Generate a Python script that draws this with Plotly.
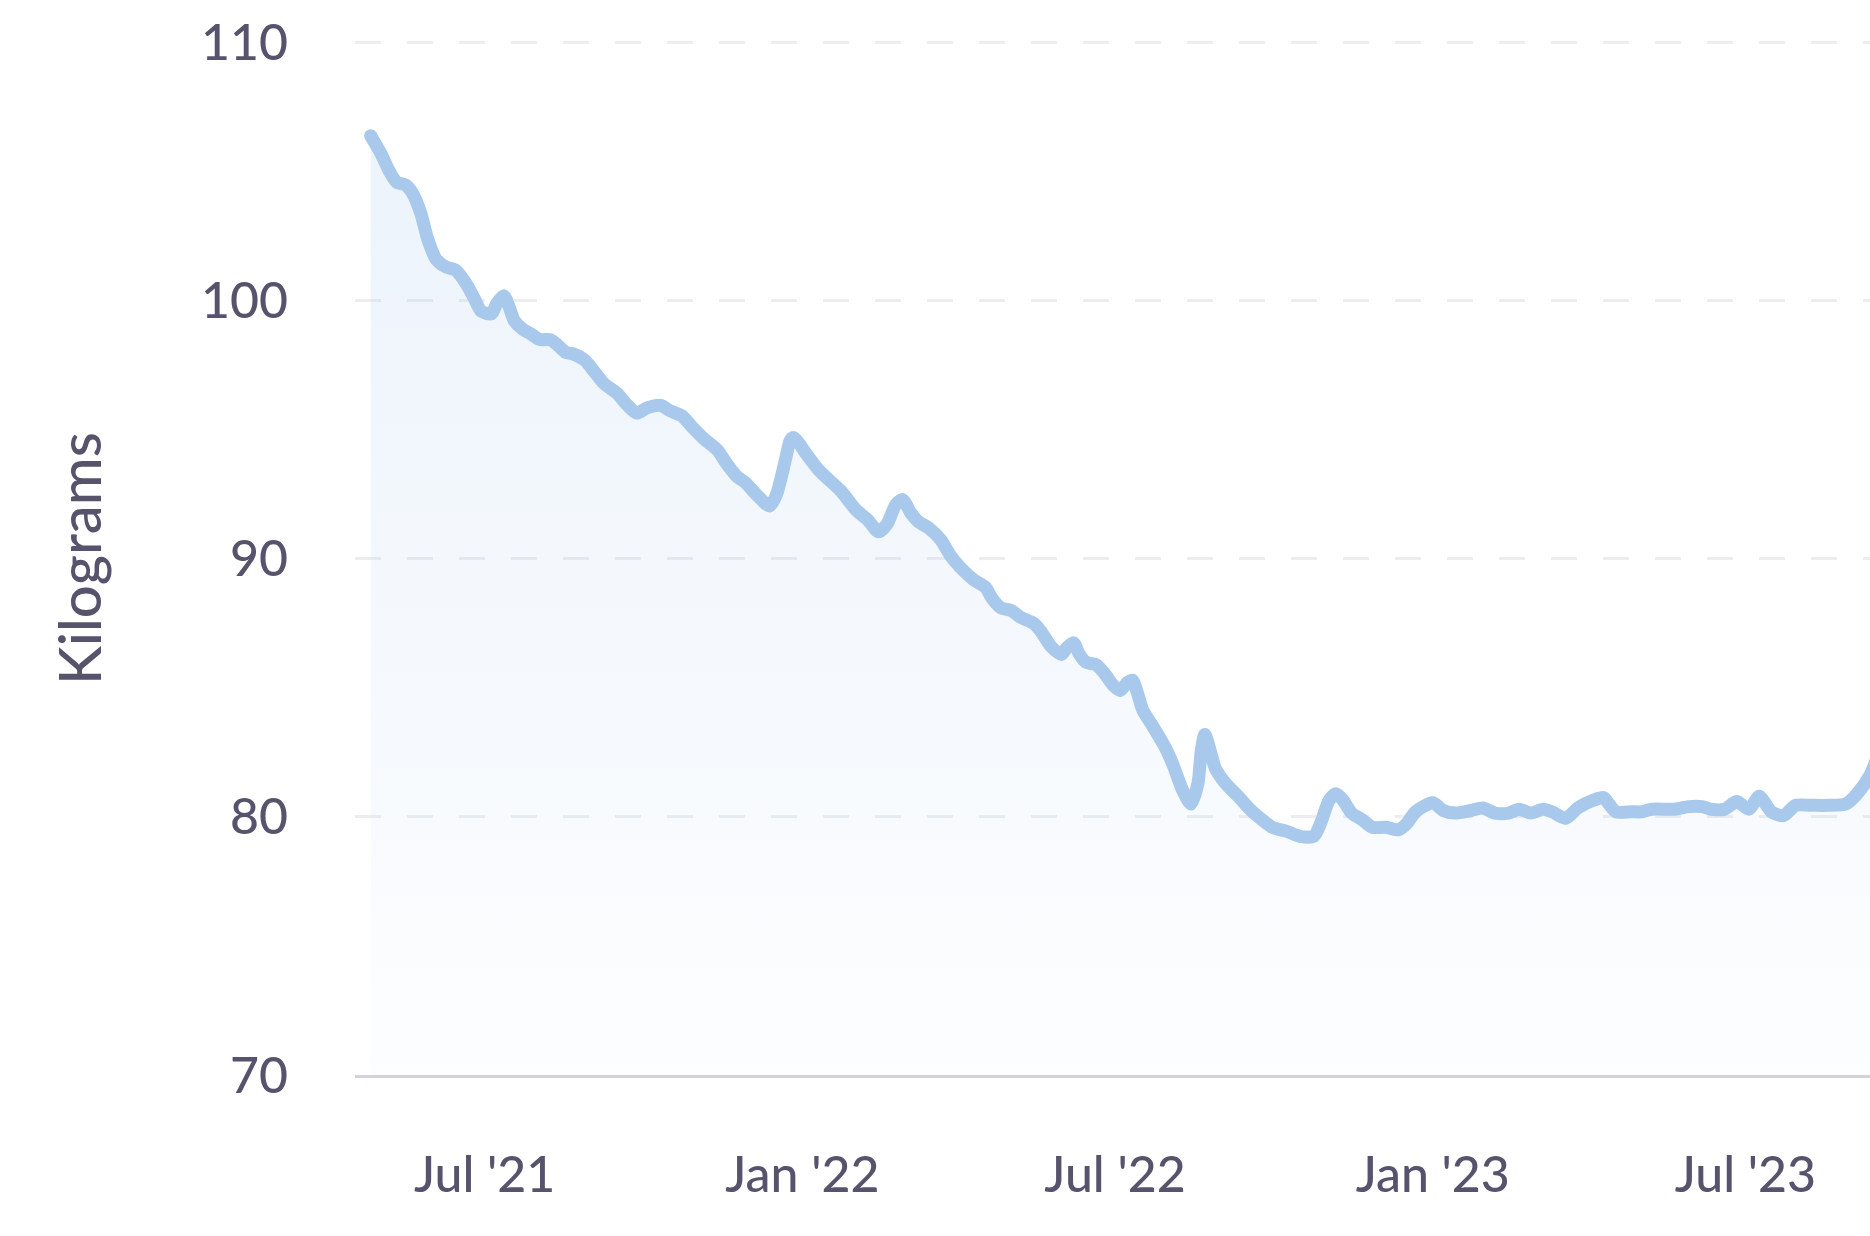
import plotly.graph_objects as go

dates = [
    "2021-04-26", "2021-05-02", "2021-05-07", "2021-05-11", "2021-05-16", "2021-05-20",
    "2021-05-25", "2021-05-29", "2021-06-03", "2021-06-09", "2021-06-14", "2021-06-20",
    "2021-06-25", "2021-06-29", "2021-07-05", "2021-07-08", "2021-07-12", "2021-07-15",
    "2021-07-18", "2021-07-23", "2021-07-27", "2021-08-02", "2021-08-08", "2021-08-12",
    "2021-08-17", "2021-08-21", "2021-08-28", "2021-09-02", "2021-09-08", "2021-09-16",
    "2021-09-21", "2021-09-27", "2021-10-03", "2021-10-11", "2021-10-16", "2021-10-23",
    "2021-10-30", "2021-11-05", "2021-11-13", "2021-11-18", "2021-11-24", "2021-11-29",
    "2021-12-06", "2021-12-13", "2021-12-17", "2021-12-22", "2021-12-25", "2021-12-27",
    "2022-01-04", "2022-01-11", "2022-01-23", "2022-02-01", "2022-02-08", "2022-02-14",
    "2022-02-19", "2022-02-24", "2022-02-28", "2022-03-05", "2022-03-09", "2022-03-15",
    "2022-03-22", "2022-03-28", "2022-04-02", "2022-04-10", "2022-04-17", "2022-04-21",
    "2022-04-26", "2022-05-02", "2022-05-07", "2022-05-15", "2022-05-19", "2022-05-25",
    "2022-05-31", "2022-06-03", "2022-06-07", "2022-06-10", "2022-06-14", "2022-06-20",
    "2022-06-25", "2022-06-30", "2022-07-04", "2022-07-08", "2022-07-11", "2022-07-14",
    "2022-07-17", "2022-07-23", "2022-07-30", "2022-08-04", "2022-08-09", "2022-08-14",
    "2022-08-18", "2022-08-20", "2022-08-22", "2022-08-25", "2022-08-28", "2022-09-03",
    "2022-09-11", "2022-09-17", "2022-09-23", "2022-09-30", "2022-10-08", "2022-10-16",
    "2022-10-24", "2022-10-28", "2022-11-02", "2022-11-06", "2022-11-10", "2022-11-15",
    "2022-11-21", "2022-11-27", "2022-12-05", "2022-12-12", "2022-12-17", "2022-12-22",
    "2023-01-01", "2023-01-07", "2023-01-14", "2023-01-23", "2023-01-30", "2023-02-06",
    "2023-02-14", "2023-02-20", "2023-02-27", "2023-03-06", "2023-03-11", "2023-03-19",
    "2023-03-26", "2023-04-04", "2023-04-10", "2023-04-13", "2023-04-17", "2023-04-26",
    "2023-05-02", "2023-05-08", "2023-05-21", "2023-05-29", "2023-06-06", "2023-06-11",
    "2023-06-19", "2023-06-26", "2023-07-03", "2023-07-09", "2023-07-16", "2023-07-23",
    "2023-07-30", "2023-08-08", "2023-08-18", "2023-08-28", "2023-09-03", "2023-09-11",
    "2023-09-18",
]

weight_kg = [
    106.4, 105.7, 105.0, 104.6, 104.5, 104.2,
    103.4, 102.4, 101.6, 101.3, 101.2, 100.7,
    100.1, 99.6, 99.5, 99.9, 100.2, 99.8,
    99.25, 98.9, 98.75, 98.5, 98.5, 98.3,
    98.0, 97.95, 97.7, 97.3, 96.8, 96.4,
    96.0, 95.65, 95.85, 95.95, 95.75, 95.55,
    95.05, 94.65, 94.2, 93.7, 93.2, 92.95,
    92.45, 92.05, 92.5, 93.8, 94.6, 94.7,
    94.0, 93.4, 92.65, 91.9, 91.5, 91.05,
    91.35, 92.1, 92.3, 91.75, 91.45, 91.2,
    90.75, 90.1, 89.7, 89.2, 88.9, 88.45,
    88.1, 88.0, 87.75, 87.5, 87.2, 86.6,
    86.3, 86.55, 86.75, 86.35, 86.0, 85.9,
    85.55, 85.1, 84.9, 85.2, 85.3, 84.8,
    84.15, 83.5, 82.7, 81.95, 81.05, 80.5,
    81.3, 82.6, 83.2, 82.6, 81.9, 81.3,
    80.75, 80.3, 79.95, 79.6, 79.45, 79.25,
    79.25, 79.75, 80.65, 80.9, 80.65, 80.15,
    79.9, 79.6, 79.6, 79.5, 79.75, 80.2,
    80.55, 80.25, 80.15, 80.25, 80.35, 80.15,
    80.15, 80.3, 80.15, 80.3, 80.2, 79.95,
    80.35, 80.65, 80.75, 80.5, 80.2, 80.2,
    80.2, 80.3, 80.3, 80.4, 80.4, 80.3,
    80.3, 80.6, 80.3, 80.8, 80.2, 80.05,
    80.45, 80.45, 80.45, 80.5, 80.85, 81.6,
    82.8,
]

y_ticks = [70, 80, 90, 100, 110]
x_tick_dates = ["2021-07-01", "2022-01-01", "2022-07-01", "2023-01-01", "2023-07-01"]
x_tick_labels = ["Jul '21", "Jan '22", "Jul '22", "Jan '23", "Jul '23"]
y_title = "Kilograms"

TEXT = "#58536d"
LINE = "#a8c9ec"
FONT = "Lato, 'Open Sans', sans-serif"
LINE_W = 13

fig = go.Figure()
fig.add_trace(go.Scatter(
    x=dates,
    y=weight_kg,
    mode="lines",
    line=dict(color=LINE, width=LINE_W, shape="spline", smoothing=0.7),
    fill="tozeroy",
    fillgradient=dict(
        type="vertical",
        start=70,
        stop=106.4,
        colorscale=[[0, "rgba(168,201,236,0.03)"], [1, "rgba(168,201,236,0.22)"]],
    ),
    hoverinfo="skip",
    showlegend=False,
))
# rounded cap at the start of the line
fig.add_trace(go.Scatter(
    x=dates[:1],
    y=weight_kg[:1],
    mode="markers",
    marker=dict(color=LINE, size=LINE_W, line=dict(width=0)),
    hoverinfo="skip",
    showlegend=False,
))

fig.update_layout(
    width=1870,
    height=1236,
    margin=dict(l=355, r=0, t=17, b=161, pad=0),
    paper_bgcolor="white",
    plot_bgcolor="white",
    font=dict(family=FONT, color=TEXT, size=50, weight=500),
    showlegend=False,
    annotations=[dict(
        text=y_title,
        textangle=-90,
        xref="paper", yref="paper",
        x=-0.1822, y=0.4887,
        xanchor="center", yanchor="middle",
        showarrow=False,
        font=dict(family=FONT, color=TEXT, size=58, weight=500),
    )],
)

fig.update_xaxes(
    type="date",
    range=["2021-04-16 22:19", "2023-09-11 03:20"],
    tickvals=x_tick_dates,
    ticktext=x_tick_labels,
    showgrid=False,
    zeroline=False,
    showline=True,
    linecolor="#d3d2dc",
    linewidth=3,
    ticks="outside",
    ticklen=54,
    tickcolor="rgba(0,0,0,0)",
    tickfont=dict(family=FONT, color=TEXT, size=50, weight=500),
)

fig.update_yaxes(
    range=[70, 111],
    tickvals=y_ticks,
    ticktext=[str(v) for v in y_ticks],
    showgrid=True,
    gridcolor="#ededf1",
    gridwidth=3,
    griddash="26px,26px",
    zeroline=False,
    showline=False,
    ticks="outside",
    ticklen=56,
    tickcolor="rgba(0,0,0,0)",
    tickfont=dict(family=FONT, color=TEXT, size=50, weight=500),
)

fig.write_html(
    "out.html",
    config={"displayModeBar": False},
    post_script="document.body.style.margin='0';document.documentElement.style.overflow='hidden';document.body.style.overflow='hidden';",
)
